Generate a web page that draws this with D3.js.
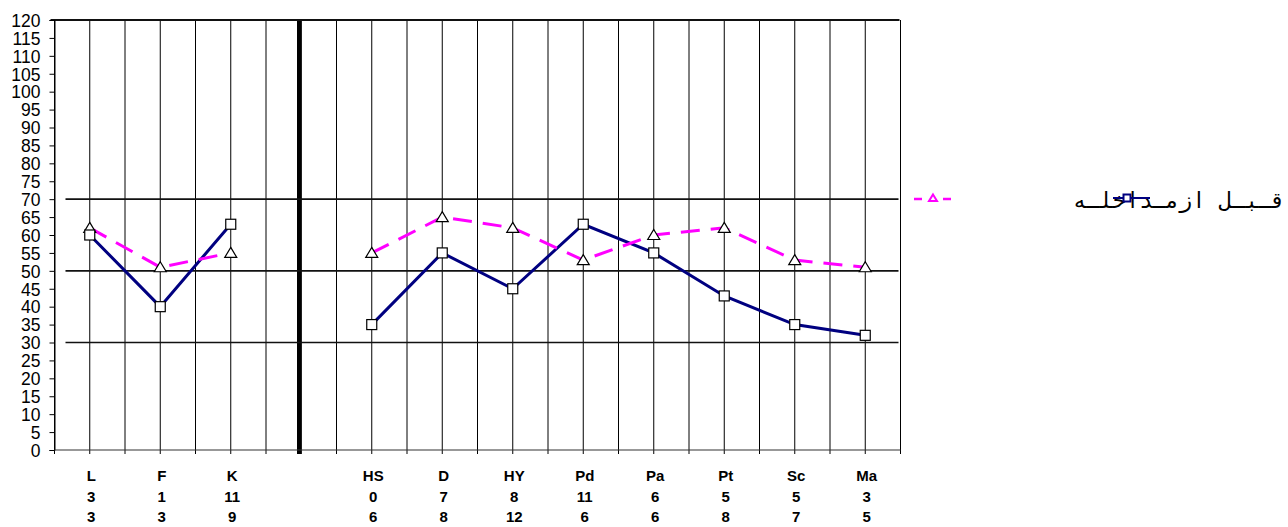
<!DOCTYPE html>
<meta charset="utf-8">
<style>
    body { margin: 0; background: #fff; }
    svg text { font-family: "Liberation Sans", Arial, sans-serif; }
    .xlab { font-size: 15px; font-weight: bold; }
    .grid line { stroke: #000; stroke-width: 1px; }
</style>
<svg width="1288" height="527"></svg>
<script src="https://cdn.jsdelivr.net/npm/d3@7"></script>
<script>

    // scale names and two rows of raw scores under them
    var categories = ["L", "F", "K", "", "HS", "D", "HY", "Pd", "Pa", "Pt", "Sc", "Ma"];
    var row2 = ["3", "1", "11", "", "0", "7", "8", "11", "6", "5", "5", "3"];
    var row3 = ["3", "3", "9", "", "6", "8", "12", "6", "6", "8", "7", "5"];

    // T-scores, null = gap between validity and clinical scales
    var navySeries = [60, 40, 63, null, 35, 55, 45, 63, 55, 43, 35, 32];
    var pinkSeries = [62, 51, 55, null, 55, 65, 62, 53, 60, 62, 53, 51];

    var yTicks = d3.range(0, 121, 5);
    var refLines = [70, 50, 30];
    var legendLabel = "قـبـل  ازمـداخلـه";

    var svg = d3.select("svg");

    var x = d3.scaleBand()
        .domain(d3.range(categories.length))
        .range([54.5, 900.5]);
    var y = d3.scaleLinear().domain([0, 120]).range([450, 20]);
    var half = x.bandwidth() / 2;
    var cx = function (i) { return x(i) + half; };

    // vertical grid at every band edge and centre
    var gridX = [];
    categories.forEach(function (c, i) { gridX.push(x(i)); gridX.push(cx(i)); });
    gridX.push(x.range()[1]);

    svg.append("g").attr("class", "grid")
        .selectAll("line").data(gridX).enter().append("line")
        .attr("x1", function (d) { return d; }).attr("x2", function (d) { return d; })
        .attr("y1", y(120)).attr("y2", y(0) + 4);

    // thick separator
    svg.append("line")
        .attr("x1", cx(3) - 2).attr("x2", cx(3) - 2)
        .attr("y1", y(120)).attr("y2", y(0) + 4)
        .attr("stroke", "#000").attr("stroke-width", 4.5);

    // top border
    svg.append("line")
        .attr("x1", x.range()[0] - 4).attr("x2", x.range()[1] - 1)
        .attr("y1", y(120)).attr("y2", y(120))
        .attr("stroke", "#111").attr("stroke-width", 2);

    // reference lines
    svg.append("g").selectAll("line").data(refLines).enter().append("line")
        .attr("x1", x.range()[0] + 11).attr("x2", x.range()[1] - 2)
        .attr("y1", function (d) { return y(d); }).attr("y2", function (d) { return y(d); })
        .attr("stroke", "#111").attr("stroke-width", 1.6);

    // y axis
    var yAxis = svg.append("g")
        .attr("transform", "translate(" + x.range()[0] + ",0)")
        .call(d3.axisLeft(y).tickValues(yTicks).tickSize(5).tickPadding(5));
    yAxis.attr("font-size", null).attr("font-family", null);
    yAxis.select(".domain").attr("stroke", "#000");
    yAxis.selectAll("text")
        .style("font-size", "17.5px")
        .style("font-family", "'Liberation Sans', Arial, sans-serif")
        .attr("fill", "#000")
        .attr("dy", "0.36em").attr("x", -14);

    // x axis baseline
    svg.append("line")
        .attr("x1", x.range()[0]).attr("x2", x.range()[1])
        .attr("y1", y(0)).attr("y2", y(0))
        .attr("stroke", "#333").attr("stroke-width", 1.2);

    // category labels (3 rows)
    [categories, row2, row3].forEach(function (row, r) {
        svg.append("g").selectAll("text").data(row).enter().append("text")
            .attr("class", "xlab")
            .attr("text-anchor", "middle")
            .attr("x", function (d, i) { return cx(i) + 1.5; })
            .attr("y", 481 + r * 20.5)
            .text(function (d) { return d; });
    });

    var line = d3.line()
        .defined(function (d) { return d != null; })
        .x(function (d, i) { return cx(i); })
        .y(function (d) { return y(d); });

    svg.append("path").datum(navySeries)
        .attr("fill", "none").attr("stroke", "#000080").attr("stroke-width", 3)
        .attr("d", line);

    svg.append("path").datum(pinkSeries)
        .attr("fill", "none").attr("stroke", "#ff00ff").attr("stroke-width", 3)
        .attr("stroke-dasharray", "19,11")
        .attr("d", line);

    var triPath = "M0,-5.5L6,4.5L-6,4.5Z";

    svg.append("g").selectAll("path")
        .data(pinkSeries.map(function (v, i) { return { v: v, i: i }; }).filter(function (d) { return d.v != null; }))
        .enter().append("path")
        .attr("d", triPath)
        .attr("transform", function (d) { return "translate(" + cx(d.i) + "," + y(d.v) + ")"; })
        .attr("fill", "#fff").attr("stroke", "#000").attr("stroke-width", 1.2);

    svg.append("g").selectAll("rect")
        .data(navySeries.map(function (v, i) { return { v: v, i: i }; }).filter(function (d) { return d.v != null; }))
        .enter().append("rect")
        .attr("x", function (d) { return cx(d.i) - 5; })
        .attr("y", function (d) { return y(d.v) - 5; })
        .attr("width", 10).attr("height", 10)
        .attr("fill", "#fff").attr("stroke", "#000").attr("stroke-width", 1.2);

    // legend
    var lg = svg.append("g");
    lg.append("line").attr("x1", 914).attr("x2", 922).attr("y1", 199).attr("y2", 199)
        .attr("stroke", "#ff00ff").attr("stroke-width", 2.5);
    lg.append("line").attr("x1", 943).attr("x2", 951).attr("y1", 199).attr("y2", 199)
        .attr("stroke", "#ff00ff").attr("stroke-width", 2.5);
    lg.append("path").attr("d", "M0,-3.5L4,3L-4,3Z")
        .attr("transform", "translate(933,198)")
        .attr("fill", "#fff").attr("stroke", "#ff00ff").attr("stroke-width", 2);

    lg.append("text")
        .attr("x", 1285).attr("y", 208)
        .attr("text-anchor", "end")
        .style("font-family", "'DejaVu Sans Mono', monospace")
        .style("font-size", "22px")
        .attr("fill", "#000")
        .text(legendLabel);

    lg.append("line").attr("x1", 1113).attr("x2", 1150).attr("y1", 198).attr("y2", 198)
        .attr("stroke", "#000080").attr("stroke-width", 2);
    lg.append("rect").attr("x", 1123.5).attr("y", 194.5).attr("width", 7).attr("height", 7)
        .attr("fill", "#fff").attr("stroke", "#000080").attr("stroke-width", 2);

</script>
